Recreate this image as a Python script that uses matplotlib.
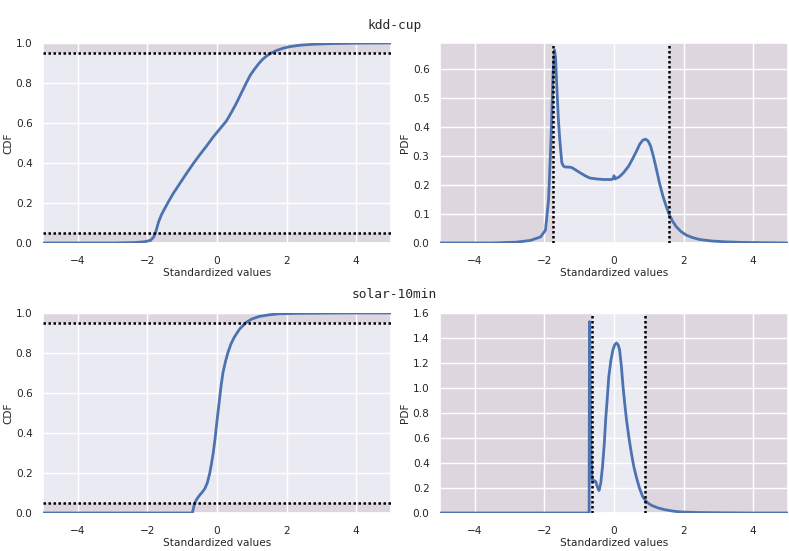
import matplotlib
matplotlib.use("Agg")
import matplotlib.pyplot as plt
import seaborn as sns

sns.set_theme(style="darkgrid")
plt.rcParams['font.family'] = ['DejaVu Sans']

titles = ["kdd-cup", "solar-10min"]

# kdd-cup CDF
kdd_cdf_x = [-5.0, -3.0, -2.4, -2.1, -1.91, -1.82, -1.77, -1.72, -1.68, -1.60, -1.54, -1.40, -1.26, -1.07,
             -0.88, -0.69, -0.50, -0.30, -0.11, 0.08, 0.27, 0.42, 0.56, 0.70, 0.84, 0.96, 1.08, 1.20,
             1.32, 1.44, 1.56, 1.72, 1.90, 2.10, 2.38, 2.8, 3.3, 4.0, 5.0]
kdd_cdf_y = [0.0, 0.0, 0.002, 0.006, 0.013, 0.03, 0.05, 0.08, 0.105, 0.14, 0.16, 0.205, 0.247, 0.297,
             0.347, 0.395, 0.44, 0.485, 0.53, 0.57, 0.61, 0.655, 0.70, 0.75, 0.80, 0.84, 0.87, 0.897,
             0.92, 0.937, 0.95, 0.963, 0.974, 0.982, 0.989, 0.994, 0.997, 0.999, 1.0]

# kdd-cup PDF
kdd_pdf_x = [-5.0, -3.5, -2.8, -2.40, -2.11, -1.97, -1.88, -1.81, -1.75, -1.71, -1.68, -1.64, -1.60,
             -1.56, -1.50, -1.45, -1.40, -1.30, -1.21, -1.10, -0.97, -0.83, -0.69, -0.50, -0.30, -0.07,
             -0.02, 0.0, 0.03, 0.15, 0.27, 0.42, 0.55, 0.65, 0.74, 0.83, 0.91, 0.98, 1.05, 1.13, 1.22,
             1.31, 1.41, 1.50, 1.58, 1.68, 1.79, 1.93, 2.08, 2.25, 2.46, 2.8, 3.2, 3.7, 4.3, 5.0]
kdd_pdf_y = [0.0, 0.0, 0.003, 0.009, 0.021, 0.044, 0.149, 0.358, 0.59, 0.666, 0.64, 0.533, 0.43,
             0.358, 0.277, 0.265, 0.262, 0.262, 0.26, 0.252, 0.242, 0.232, 0.224, 0.221, 0.219, 0.219,
             0.222, 0.232, 0.221, 0.228, 0.242, 0.265, 0.294, 0.318, 0.341, 0.355, 0.358, 0.352, 0.335,
             0.30, 0.254, 0.205, 0.16, 0.127, 0.10, 0.076, 0.056, 0.039, 0.027, 0.019, 0.012, 0.007,
             0.004, 0.002, 0.001, 0.0]

# solar-10min CDF
solar_cdf_x = [-5.0, -0.71, -0.70, -0.67, -0.64, -0.57, -0.50, -0.42, -0.35, -0.28, -0.21, -0.16, -0.11,
               -0.06, -0.02, 0.03, 0.08, 0.12, 0.17, 0.24, 0.31, 0.40, 0.50, 0.65, 0.84, 1.0, 1.22,
               1.5, 1.79, 2.3, 3.0, 4.0, 5.0]
solar_cdf_y = [0.0, 0.0, 0.005, 0.03, 0.05, 0.072, 0.089, 0.105, 0.122, 0.15, 0.198, 0.245, 0.298,
               0.365, 0.43, 0.505, 0.58, 0.64, 0.70, 0.755, 0.80, 0.845, 0.88, 0.92, 0.953, 0.970,
               0.983, 0.991, 0.996, 0.998, 0.999, 1.0, 1.0]

# solar-10min PDF
solar_pdf_x = [-5.0, -0.715, -0.705, -0.69, -0.68, -0.66, -0.63, -0.60, -0.57, -0.52, -0.48, -0.43,
               -0.38, -0.33, -0.28, -0.24, -0.19, -0.15, -0.09, -0.03, 0.02, 0.07, 0.12, 0.16, 0.21,
               0.26, 0.31, 0.36, 0.43, 0.50, 0.57, 0.64, 0.73, 0.83, 0.95, 1.07, 1.25, 1.45, 1.7,
               1.93, 2.4, 3.0, 4.0, 5.0]
solar_pdf_y = [0.0, 0.0, 1.53, 1.2, 0.85, 0.45, 0.27, 0.25, 0.26, 0.25, 0.21, 0.18, 0.24, 0.37, 0.55,
               0.744, 0.93, 1.09, 1.22, 1.306, 1.345, 1.36, 1.345, 1.306, 1.18, 1.01, 0.87, 0.744,
               0.60, 0.477, 0.37, 0.29, 0.20, 0.128, 0.085, 0.062, 0.042, 0.027, 0.015, 0.008, 0.004,
               0.002, 0.0, 0.0]

# quantile positions (5% / 95%)
kdd_q = [-1.76, 1.58]
solar_q = [-0.62, 0.88]
cdf_levels = [0.05, 0.95]

cdfs = [(kdd_cdf_x, kdd_cdf_y), (solar_cdf_x, solar_cdf_y)]
pdfs = [(kdd_pdf_x, kdd_pdf_y), (solar_pdf_x, solar_pdf_y)]
quants = [kdd_q, solar_q]
pdf_ylims = [(0, 0.69), (0, 1.6)]

W, H = 789, 551
fig = plt.figure(figsize=(W / 100, H / 100), dpi=100)

line_color = "#4C72B0"
shade = "#DED6DF"
dot_ls = (0, (1, 1))
fs = 7.6

rows = [(43, 243), (313, 513)]
cols = [(43, 391), (440, 788)]
title_y = [25, 295]


def style(ax, ylabel):
    ax.set_xlim(-5, 5)
    ax.set_xticks([-4, -2, 0, 2, 4])
    ax.set_xlabel("Standardized values", fontsize=fs, labelpad=1)
    ax.set_ylabel(ylabel, fontsize=fs, labelpad=2)
    ax.tick_params(axis="y", labelsize=fs, pad=1.5)
    ax.tick_params(axis="x", labelsize=fs, pad=3.5)


for r in range(2):
    top, bot = rows[r]
    # CDF axis
    l, rr = cols[0]
    ax = fig.add_axes([l / W, 1 - bot / H, (rr - l) / W, (bot - top) / H])
    x, y = cdfs[r]
    ax.axhspan(-0.5, cdf_levels[0], color=shade, zorder=0.5, lw=0)
    ax.axhspan(cdf_levels[1], 1.5, color=shade, zorder=0.5, lw=0)
    ax.plot(x, y, color=line_color, lw=2, zorder=3)
    for lv in cdf_levels:
        ax.axhline(lv, color="black", ls=dot_ls, lw=1.8, zorder=4)
    ax.set_ylim(0, 1.0)
    ax.set_yticks([0, 0.2, 0.4, 0.6, 0.8, 1.0])
    style(ax, "CDF")

    # PDF axis
    l, rr = cols[1]
    ax2 = fig.add_axes([l / W, 1 - bot / H, (rr - l) / W, (bot - top) / H])
    x, y = pdfs[r]
    q = quants[r]
    ax2.axvspan(-6, q[0], color=shade, zorder=0.5, lw=0)
    ax2.axvspan(q[1], 6, color=shade, zorder=0.5, lw=0)
    ax2.plot(x, y, color=line_color, lw=2, zorder=3)
    for qq in q:
        ax2.axvline(qq, color="black", ls=dot_ls, lw=1.8, zorder=4)
    ax2.set_ylim(*pdf_ylims[r])
    style(ax2, "PDF")

    fig.text(0.5, 1 - title_y[r] / H, titles[r], ha="center", va="center",
             fontsize=9.3, family="DejaVu Sans Mono")

fig.savefig("out.png", dpi=100)
